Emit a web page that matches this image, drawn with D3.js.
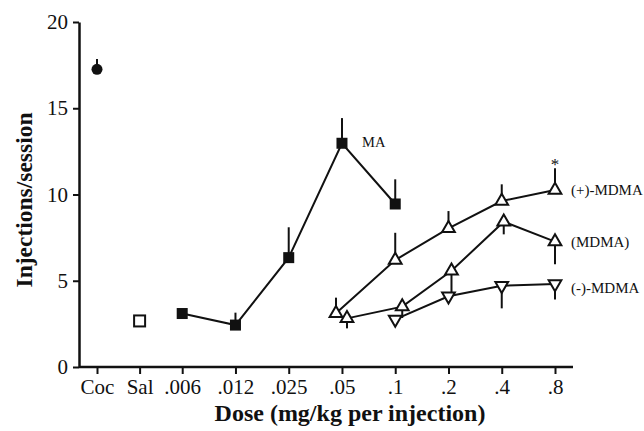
<!DOCTYPE html>
<html>
<head>
<meta charset="utf-8">
<script src="https://cdn.jsdelivr.net/npm/d3@7"></script>
<style>
  body { margin: 0; background: #fff; }
  text { font-family: "Liberation Serif", "Times New Roman", serif; }
</style>
</head>
<body>
<div id="chart"></div>
<script>
// x categories (doses, mg/kg per injection)
const categories = ["Coc", "Sal", ".006", ".012", ".025", ".05", ".1", ".2", ".4", ".8"];
const y_ticks = [0, 5, 10, 15, 20];

// cocaine and saline reference points
const coc_mean = 17.26, coc_sem = 0.6;
const sal_mean = 2.67;

// methamphetamine
const ma_doses = [".006", ".012", ".025", ".05", ".1"];
const ma_mean = [3.1, 2.43, 6.34, 12.97, 9.45];
const ma_sem = [0, 0.72, 1.76, 1.46, 1.43];

// (+)-MDMA
const plus_doses = [".05", ".1", ".2", ".4", ".8"];
const plus_mean = [3.11, 6.2, 8.04, 9.62, 10.26];
const plus_sem = [0.91, 1.58, 1.0, 0.97, 1.26];

// racemic MDMA
const rac_doses = [".05", ".1", ".2", ".4", ".8"];
const rac_mean = [2.82, 3.5, 5.58, 8.42, 7.27];
const rac_sem = [0.58, 0.66, 1.41, 0.73, 1.32];

// (-)-MDMA
const minus_doses = [".1", ".2", ".4", ".8"];
const minus_mean = [2.76, 4.1, 4.71, 4.81];
const minus_sem = [0, 0, 1.31, 0.89];

const width = 644, height = 431;
const m_left = 79, m_bottom = 367, m_top = 22;

// slots: first three categories sit closer together
const slot = c => { let i = categories.indexOf(c); return i < 3 ? i*0.8 : 1.6 + (i-2); };

var x = d3.scaleLinear().domain([0, slot(".8")]).range([97, 555]);
var y = d3.scaleLinear().domain([0, 20]).range([m_bottom, m_top]);

var svg = d3.select("#chart").append("svg")
	.attr("width", width)
	.attr("height", height);

// axes
var xAxis = svg.append("g")
	.attr("transform", `translate(0,${m_bottom})`)
	.call(d3.axisBottom(x).tickValues(categories.map(slot)).tickFormat((d,i) => categories[i]).tickSize(7).tickSizeOuter(0).tickPadding(5));
xAxis.select(".domain").attr("d", `M${m_left},0H573`);
var yAxis = svg.append("g")
	.attr("transform", `translate(${m_left},0)`)
	.call(d3.axisLeft(y).tickValues(y_ticks).tickSize(6).tickSizeOuter(0).tickPadding(5));

svg.selectAll(".domain").attr("stroke", "#111").attr("stroke-width", 2.5);
svg.selectAll(".tick line").attr("stroke", "#111").attr("stroke-width", 2);
svg.selectAll(".tick text").attr("font-family", "Liberation Serif").attr("font-size", "21px").attr("fill", "#111");

svg.append("text")
	.attr("x", 350).attr("y", 421)
	.attr("text-anchor", "middle")
	.attr("font-size", "24px").attr("font-weight", "bold")
	.attr("fill", "#111")
	.text("Dose (mg/kg per injection)");
svg.append("text")
	.attr("transform", "translate(32,200) rotate(-90)")
	.attr("text-anchor", "middle")
	.attr("font-size", "23.5px").attr("font-weight", "bold")
	.attr("fill", "#111")
	.text("Injections/session");

function makeSeries(doses, mean, sem, nudge) {
	return doses.map((d, i) => ({dose: d, mean: mean[i], sem: sem[i], dx: nudge ? nudge[i] : 0}));
}
var ma = makeSeries(ma_doses, ma_mean, ma_sem);
var plus = makeSeries(plus_doses, plus_mean, plus_sem, [-6, 0, 0, 0, 0]);
var rac = makeSeries(rac_doses, rac_mean, rac_sem, [5, 7, 3, 2, 0]);
var minus = makeSeries(minus_doses, minus_mean, minus_sem);

let px = d => x(slot(d.dose)) + d.dx;
let line = d3.line().x(px).y(d => y(d.mean));

function drawSeries(data, dir) {
	svg.append("path")
		.datum(data)
		.attr("d", line)
		.attr("fill", "none")
		.attr("stroke", "#111")
		.attr("stroke-width", 2);
	svg.selectAll(null)
		.data(data.filter(d => d.sem > 0))
		.enter().append("line")
		.attr("x1", px).attr("x2", px)
		.attr("y1", d => y(d.mean))
		.attr("y2", d => y(d.mean + dir*d.sem))
		.attr("stroke", "#111")
		.attr("stroke-width", 2);
}
drawSeries(ma, 1);
drawSeries(plus, 1);
drawSeries(rac, -1);
drawSeries(minus, -1);

// cocaine error bar
svg.append("line")
	.attr("x1", x(slot("Coc"))).attr("x2", x(slot("Coc")))
	.attr("y1", y(coc_mean)).attr("y2", y(coc_mean + coc_sem))
	.attr("stroke", "#111").attr("stroke-width", 2);

// markers
svg.append("circle")
	.attr("cx", x(slot("Coc"))).attr("cy", y(coc_mean))
	.attr("r", 5.5).attr("fill", "#111");
svg.append("rect")
	.attr("x", x(slot("Sal")) - 5.5).attr("y", y(sal_mean) - 5.5)
	.attr("width", 11).attr("height", 11)
	.attr("fill", "#fff").attr("stroke", "#111").attr("stroke-width", 2);
svg.selectAll(".ma")
	.data(ma)
	.enter().append("rect")
	.attr("x", d => px(d) - 5.5).attr("y", d => y(d.mean) - 5.5)
	.attr("width", 11).attr("height", 11)
	.attr("fill", "#111");

let tri = d3.symbol(d3.symbolTriangle, 70);
function drawTriangles(data, rot) {
	svg.selectAll(null)
		.data(data)
		.enter().append("path")
		.attr("d", tri)
		.attr("transform", d => `translate(${px(d)},${y(d.mean)}) rotate(${rot})`)
		.attr("fill", "#fff")
		.attr("stroke", "#111")
		.attr("stroke-width", 2);
}
drawTriangles(minus, 180);
drawTriangles(rac, 0);
drawTriangles(plus, 0);

// labels
svg.append("text").attr("x", 362).attr("y", 147).attr("font-size", "14.5px").attr("fill", "#111").text("MA");
svg.append("text").attr("x", 571).attr("y", 195).attr("font-size", "15px").attr("fill", "#111").text("(+)-MDMA");
svg.append("text").attr("x", 571).attr("y", 247).attr("font-size", "15px").attr("fill", "#111").text("(MDMA)");
svg.append("text").attr("x", 571).attr("y", 293).attr("font-size", "15px").attr("fill", "#111").text("(-)-MDMA");
svg.append("text").attr("x", x(slot(".8"))).attr("y", 170).attr("text-anchor", "middle").attr("font-size", "17px").attr("fill", "#111").text("*");
</script>
</body>
</html>
